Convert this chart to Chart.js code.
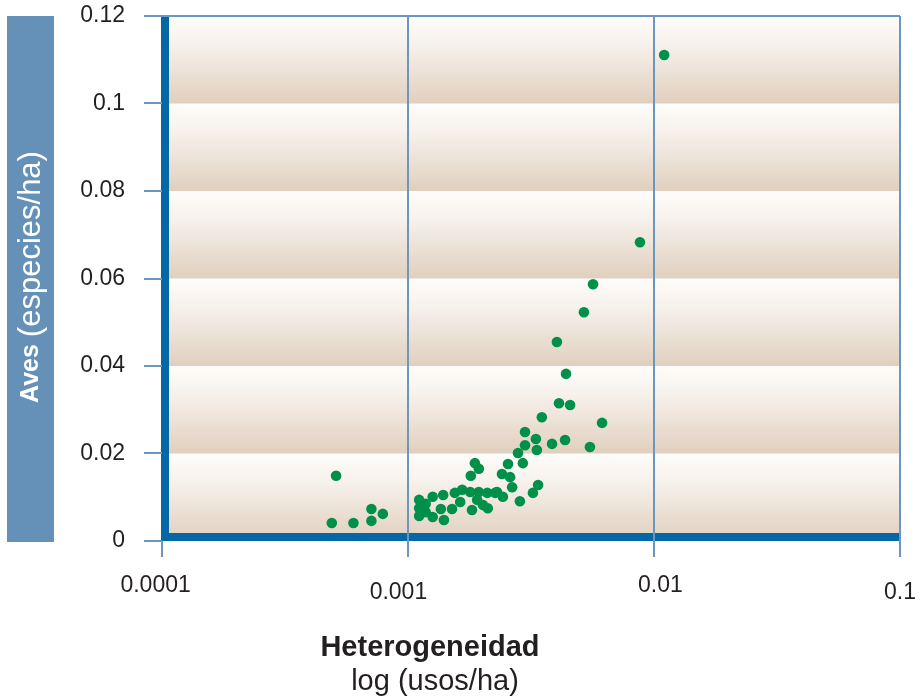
<!DOCTYPE html>
<html>
<head>
<meta charset="utf-8">
<script src="https://cdn.jsdelivr.net/npm/chart.js@4/dist/chart.umd.min.js"></script>
<style>
  html, body { margin: 0; padding: 0; background: #ffffff; }
  #wrap { position: relative; width: 922px; height: 699px; }
</style>
</head>
<body>
<div id="wrap"><canvas id="c" width="922" height="699"></canvas></div>
<script>
// Landscape heterogeneity (land uses per ha) for each site
const heterogeneity = [
  0.00049, 0.00060, 0.00071, 0.00071, 0.00079, 0.00051,
  0.00111, 0.00111, 0.00111, 0.00118, 0.00126, 0.00126, 0.00139, 0.00140,
  0.00136, 0.00151, 0.00155, 0.00166, 0.00163, 0.00179, 0.00182, 0.00191,
  0.00194, 0.00210, 0.00211, 0.00226, 0.00243, 0.00180, 0.00187, 0.00194,
  0.00202, 0.00118, 0.00241, 0.00260, 0.00255, 0.00265, 0.00285, 0.00293,
  0.00280, 0.00299, 0.00334, 0.00322, 0.00338, 0.00385, 0.00435, 0.00549,
  0.00299, 0.00331, 0.00350, 0.00411, 0.00456, 0.00615, 0.00439, 0.00403,
  0.00519, 0.00565, 0.00877, 0.0110, 0.00230
];

// Bird richness (species per ha) for the same sites
const birds = [
  0.0041, 0.0041, 0.0073, 0.0046, 0.0062, 0.0149,
  0.0094, 0.0075, 0.0057, 0.0085, 0.0101, 0.0055, 0.0105, 0.0048,
  0.0073, 0.0073, 0.0110, 0.0117, 0.0089, 0.0112, 0.0071, 0.0094,
  0.0112, 0.0110, 0.0075, 0.0110, 0.0101, 0.0149, 0.0178, 0.0165,
  0.0082, 0.0066, 0.0153, 0.0146, 0.0176, 0.0123, 0.0091, 0.0178,
  0.0201, 0.0219, 0.0208, 0.0110, 0.0128, 0.0222, 0.0231, 0.0215,
  0.0249, 0.0233, 0.0283, 0.0315, 0.0311, 0.0270, 0.0382, 0.0455,
  0.0523, 0.0587, 0.0683, 0.1111, 0.0112
];

const xTickValues = [0.0001, 0.001, 0.01, 0.1];
const xTickLabels = ['0.0001', '0.001', '0.01', '0.1'];
const yTickValues = [0, 0.02, 0.04, 0.06, 0.08, 0.1, 0.12];
const yTickLabels = ['0', '0.02', '0.04', '0.06', '0.08', '0.1', '0.12'];

const FONT = "'Liberation Sans', Arial, Helvetica, sans-serif";
const THIN = '#6a96c0';
const THICK = '#0568a6';
const TEXT = '#231f20';

// Decade labels sit slightly off-centre and alternate in height
function xLabel(i) {
  const pads = [['', '  '], ['', '   '], ['  ', ''], ['', '']];
  const s = pads[i][0] + xTickLabels[i] + pads[i][1];
  return i % 2 ? ['', s] : s;
}

// Shaded horizontal bands (white at top fading to tan) plus the heavy axis bars
const bandsPlugin = {
  id: 'bands',
  beforeDraw(chart) {
    const { ctx, chartArea: a, scales: { y } } = chart;
    ctx.save();
    for (let i = 0; i < yTickValues.length - 1; i++) {
      const yb = y.getPixelForValue(yTickValues[i]);
      const yt = y.getPixelForValue(yTickValues[i + 1]);
      const g = ctx.createLinearGradient(0, yt, 0, yb);
      g.addColorStop(0, '#fefdfb');
      g.addColorStop(0.35, '#f6f0ea');
      g.addColorStop(1, '#e0cfbe');
      ctx.fillStyle = g;
      ctx.fillRect(a.left, yt, a.right - a.left, yb - yt);
    }
    ctx.fillStyle = THICK;
    ctx.fillRect(a.left - 1, a.top, 8, a.bottom - a.top);
    ctx.fillRect(a.left - 1, a.bottom - 8, a.right - a.left + 1, 8);
    ctx.restore();
  }
};

// Axis titles: boxed vertical title on the left, two-line title below
const titlesPlugin = {
  id: 'titles',
  afterDraw(chart) {
    const { ctx, chartArea: a } = chart;
    ctx.save();
    ctx.fillStyle = '#6590b8';
    ctx.fillRect(7, a.top, 47, a.bottom - a.top + 1);

    ctx.translate(31, 277);
    ctx.rotate(-Math.PI / 2);
    ctx.fillStyle = '#ffffff';
    ctx.textBaseline = 'middle';
    ctx.textAlign = 'left';
    const boldFont = 'bold 25px ' + FONT;
    const regFont = '31px ' + FONT;
    const p1 = 'Aves ';
    const p2 = '(especies/ha)';
    ctx.font = boldFont;
    const w1 = ctx.measureText(p1).width;
    ctx.font = regFont;
    const w2 = ctx.measureText(p2).width;
    const x0 = -(w1 + w2) / 2;
    ctx.font = boldFont;
    ctx.fillText(p1, x0, 0);
    ctx.font = regFont;
    ctx.fillText(p2, x0 + w1, 0);
    ctx.restore();

    ctx.save();
    ctx.fillStyle = TEXT;
    ctx.textAlign = 'center';
    ctx.textBaseline = 'alphabetic';
    ctx.font = 'bold 29px ' + FONT;
    ctx.fillText('Heterogeneidad', 430, 656);
    ctx.font = '29px ' + FONT;
    ctx.fillText('log (usos/ha)', 435, 690);
    ctx.restore();
  }
};

new Chart(document.getElementById('c'), {
  type: 'scatter',
  data: {
    datasets: [{
      data: heterogeneity.map((v, i) => ({ x: v, y: birds[i] })),
      backgroundColor: '#00904a',
      borderWidth: 0,
      pointRadius: 5.3,
      pointHoverRadius: 5.3
    }]
  },
  options: {
    responsive: false,
    animation: false,
    events: [],
    layout: { padding: { left: 0, right: 22, top: 16, bottom: 0 } },
    plugins: { legend: { display: false }, tooltip: { enabled: false } },
    scales: {
      x: {
        type: 'logarithmic',
        min: 0.0001,
        max: 0.1,
        afterBuildTicks: (s) => { s.ticks = xTickValues.map(v => ({ value: v })); },
        afterFit: (s) => {
          s.height = 699 - 541;
          s.paddingLeft = 0; s.paddingRight = 0; s.paddingTop = 0; s.paddingBottom = 0;
        },
        border: { display: false },
        grid: {
          color: (c) => (c.index === 0 ? 'rgba(0,0,0,0)' : THIN),
          tickColor: THIN,
          lineWidth: 2,
          tickLength: 16
        },
        ticks: {
          autoSkip: false,
          maxRotation: 0,
          padding: 25,
          color: TEXT,
          font: { family: FONT, size: 23, lineHeight: 0.31 },
          callback: (v, i) => xLabel(i)
        }
      },
      y: {
        min: 0,
        max: 0.12,
        afterBuildTicks: (s) => { s.ticks = yTickValues.map(v => ({ value: v })); },
        afterFit: (s) => {
          s.width = 162;
          s.paddingLeft = 0; s.paddingRight = 0; s.paddingTop = 0; s.paddingBottom = 0;
        },
        border: { display: false },
        grid: {
          color: (c) => (c.index === yTickValues.length - 1 ? THIN : 'rgba(0,0,0,0)'),
          tickColor: THIN,
          lineWidth: 2,
          tickLength: 18
        },
        ticks: {
          padding: 19,
          color: TEXT,
          font: { family: FONT, size: 23 },
          callback: (v, i) => yTickLabels[i]
        }
      }
    }
  },
  plugins: [bandsPlugin, titlesPlugin]
});
</script>
</body>
</html>
